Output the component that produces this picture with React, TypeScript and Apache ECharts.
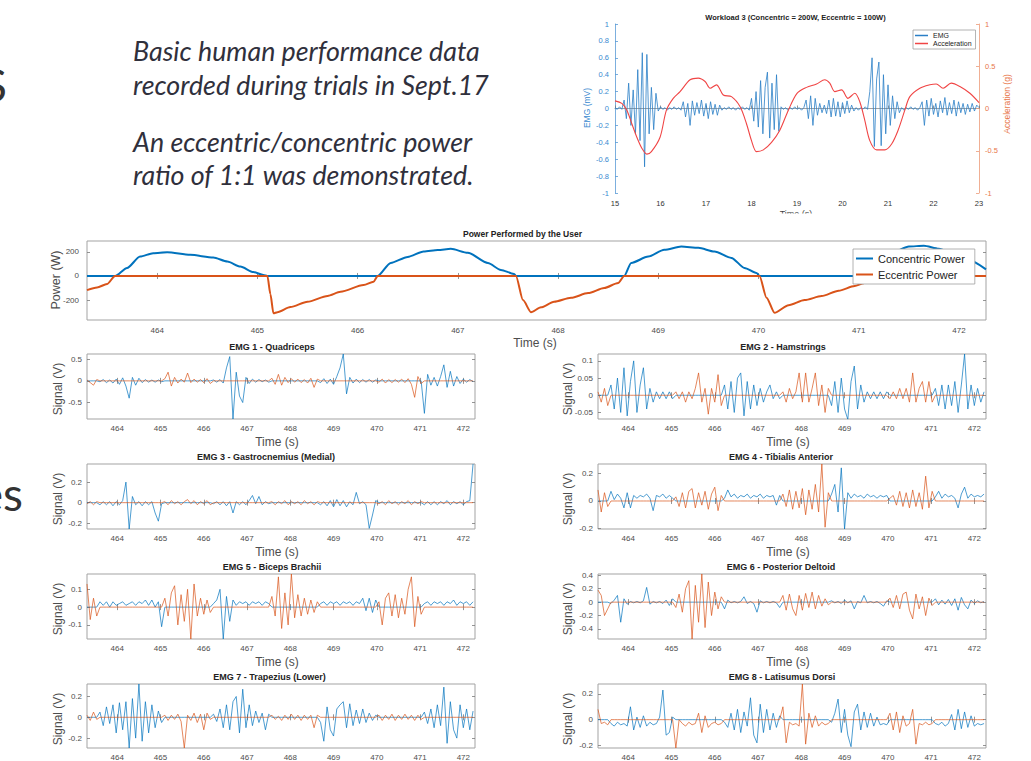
import React, { useEffect, useRef } from "react";
import * as echarts from "echarts";

// ---------------- Slide text ----------------
const slideLines = [
  "Basic human performance data",
  "recorded during trials in Sept.17",
  "An eccentric/concentric power",
  "ratio of 1:1 was demonstrated.",
];

// ---------------- Workload 3 chart ----------------
const workloadTitle = "Workload 3 (Concentric = 200W, Eccentric = 100W)";
const wlTimeStart = 15;
const wlTimeStep = 0.05;
const wlEmg = [
  0.01, -0.01, 0.02, -0.01,
  0.10, -0.12, 0.30, -0.20, 0.22, -0.30, 0.46, -0.38, 0.66, -0.69, 0.64, -0.30, 0.25, -0.25, 0.18,
  -0.03, 0.02, -0.01, 0.01, -0.02, 0.01, -0.01, 0.02, -0.01, 0.01, -0.02,
  0.08, -0.10, 0.06, -0.20, 0.09, -0.08, 0.07, -0.06, 0.10, -0.09, 0.06, -0.12, 0.08, -0.07, 0.05, -0.08, 0.04,
  -0.02, 0.01, -0.01, 0.02, -0.01, 0.01, -0.02, 0.01, -0.01, 0.02, -0.01, 0.01, -0.02,
  0.12, -0.15, 0.20, -0.22, 0.33, -0.30, 0.25, 0.43, -0.35, 0.30, -0.25, 0.40, -0.27,
  0.02, -0.01, 0.01, -0.02, 0.01, -0.01, 0.02, -0.01, 0.01, -0.02, 0.01,
  0.10, -0.12, 0.15, -0.20, 0.12, -0.08, 0.06, -0.05, 0.04, -0.06, 0.10, -0.10, 0.12, -0.09, 0.08, -0.10, 0.07, -0.06, 0.09, -0.05, 0.04, -0.03,
  0.01, -0.02, 0.01, -0.01, 0.02, -0.01,
  0.20, 0.60, -0.45, 0.35, 0.55, -0.44, 0.40, -0.30, 0.28, -0.20, 0.15, -0.12, 0.08, -0.05,
  0.01, -0.02, 0.01, -0.01, 0.02, -0.01, 0.01, -0.02, 0.01,
  0.08, -0.20, 0.10, -0.09, 0.12, -0.07, 0.06, -0.10, 0.09, -0.05, 0.13, -0.08, 0.07, -0.06, 0.10, -0.09, 0.08, -0.05, 0.06, -0.07, 0.05, -0.04, 0.06, -0.03, 0.04,
  0.01,
];
const accTime = [
  15.0, 15.15, 15.26, 15.37, 15.48, 15.59, 15.7, 15.8, 15.99, 16.13, 16.28, 16.43, 16.65, 16.83, 16.98,
  17.09, 17.23, 17.38, 17.56, 17.75, 17.89, 18.0, 18.11, 18.26, 18.44, 18.62, 18.81, 19.0, 19.21, 19.43,
  19.61, 19.72, 19.83, 19.98, 20.12, 20.27, 20.38, 20.49, 20.6, 20.75, 20.93, 21.08, 21.22, 21.37, 21.48,
  21.7, 21.92, 22.06, 22.21, 22.39, 22.58, 22.8, 23.0,
];
const accG = [
  0.09, 0.06, -0.02, -0.18, -0.34, -0.47, -0.54, -0.51, -0.34, -0.02, 0.12, 0.2, 0.34, 0.36, 0.32,
  0.24, 0.28, 0.16, 0.14, 0.02, -0.18, -0.38, -0.51, -0.49, -0.4, -0.26, -0.02, 0.18, 0.25, 0.29,
  0.34, 0.3, 0.2, 0.22, 0.12, 0.18, 0.08, -0.14, -0.38, -0.49, -0.49, -0.42, -0.26, -0.02, 0.14,
  0.24, 0.28, 0.29, 0.24, 0.3, 0.26, 0.18, 0.07,
];

// ---------------- Power chart ----------------
const powerTitle = "Power Performed by the User";
const powerTime = [
  463.3, 463.4, 463.5, 463.58, 463.7, 463.83, 463.96, 464.1, 464.33, 464.56, 464.7, 464.83, 464.96, 465.06,
  465.1, 465.13, 465.16, 465.2, 465.33, 465.5, 465.7, 465.83, 466.06, 466.16, 466.2, 466.33, 466.5, 466.66,
  466.8, 466.93, 467.1, 467.3, 467.43, 467.56, 467.58, 467.65, 467.73, 467.83, 467.96, 468.13, 468.3, 468.46,
  468.6, 468.66, 468.73, 468.9, 469.06, 469.23, 469.4, 469.56, 469.73, 469.86, 469.98, 470.01, 470.08, 470.16,
  470.3, 470.46, 470.63, 470.8, 470.96, 471.05, 471.1, 471.2, 471.35, 471.5, 471.65, 471.8, 471.95, 472.1, 472.27,
];
const powerWatts = [
  -117, -95, -67, 0, 67, 161, 189, 197, 175, 153, 120, 78, 33, 8,
  0, -150, -310, -300, -258, -214, -165, -131, -75, -47, 0, 108, 158, 203,
  215, 225, 192, 108, 50, 17, 0, -200, -300, -260, -214, -181, -142, -100,
  -58, 0, 108, 161, 217, 244, 233, 203, 150, 67, 25, 0, -180, -305,
  -242, -200, -167, -122, -83, -60, 0, 120, 200, 245, 250, 225, 180, 130, 55,
];
const powerTicks = [-200, 0, 200];

// ---------------- EMG panels ----------------
const emgTimeStart = 463.3;
const emgTimeStep = 0.075;
// times where the movement switches phase (starts eccentric, then concentric, ...)
const phaseBounds = [463.58, 465.09, 466.19, 467.56, 468.66, 470.01, 471.06];
const timeTicks = [464, 465, 466, 467, 468, 469, 470, 471, 472];

const emg1 = [
  0.02, -0.04, -0.10, 0.03,
  -0.02, 0.03, -0.04, 0.02, -0.05, 0.04, -0.08, 0.07, -0.12, -0.40, 0.08, -0.10, 0.06, -0.04, 0.03, -0.03, 0.02, -0.03, 0.02, -0.02,
  0.05, 0.20, -0.12, 0.08, -0.05, 0.04, -0.03, 0.18, -0.04, 0.04, -0.03, 0.03, -0.04, 0.05, -0.06,
  0.02, -0.03, 0.03, -0.05, 0.30, 0.56, -0.88, 0.20, -0.35, -0.50, 0.08, -0.06, 0.04, -0.03, 0.03, -0.02, 0.02, -0.03,
  0.06, -0.08, 0.15, -0.10, 0.08, -0.04, 0.05, -0.03, 0.04, -0.04, 0.03, -0.05, 0.06, -0.15, 0.04,
  -0.04, 0.05, -0.06, 0.04, -0.08, 0.10, 0.30, 0.62, -0.30, 0.08, -0.05, 0.04, -0.04, 0.03, -0.03, 0.03, -0.03, 0.02,
  -0.03, 0.04, -0.05, 0.03, -0.04, 0.03, -0.03, 0.04, -0.04, 0.05, -0.08, -0.38, 0.10, -0.06,
  -0.75, 0.15, -0.10, 0.08, -0.12, 0.10, 0.37, -0.15, 0.22, -0.12, 0.10, -0.06, 0.04, -0.03, 0.03, -0.02,
];
const emg2 = [
  0.01, -0.02, 0.02, -0.03,
  0.03, -0.04, 0.05, -0.05, 0.08, -0.06, 0.04, 0.10, -0.05, 0.03, 0.08, -0.04, 0.02, -0.02, 0.01, -0.01, 0.01, -0.01, 0.01, -0.01,
  0.01, -0.01, 0.01, -0.02, 0.01, -0.01, 0.02, 0.065, -0.02, 0.02, -0.055, 0.02, -0.02, 0.06, -0.03,
  0.03, -0.04, 0.04, -0.05, 0.05, 0.065, -0.06, 0.04, -0.04, 0.03, -0.03, 0.02, -0.02, 0.01, 0.03, -0.01, 0.01, -0.01,
  0.01, -0.02, 0.02, -0.01, 0.01, 0.065, -0.02, 0.065, -0.02, 0.02, 0.065, -0.03, 0.03, -0.05, 0.02,
  -0.03, 0.04, -0.05, 0.05, -0.04, -0.07, 0.04, 0.085, -0.04, 0.03, -0.02, 0.01, -0.01, 0.01, -0.01, 0.01, -0.01, 0.01,
  -0.01, 0.01, -0.01, 0.02, -0.01, 0.02, -0.02, 0.065, -0.02, 0.02, 0.04, -0.02, 0.04, -0.02,
  0.02, -0.03, 0.03, -0.04, 0.03, -0.03, 0.04, -0.05, 0.03, 0.12, -0.04, 0.03, -0.03, 0.02, -0.02, 0.01,
];
const emg3 = [
  -0.01, 0.01, -0.02, 0.01,
  -0.02, 0.01, -0.02, 0.01, -0.03, 0.01, -0.02, 0.02, 0.20, -0.256, 0.06, -0.02, 0.01, -0.03, 0.01, -0.02, 0.01, -0.10, -0.18, -0.01,
  0.01, -0.02, 0.02, -0.01, 0.01, -0.02, 0.01, 0.03, -0.01, 0.02, -0.02, 0.01, -0.01, 0.02, -0.02,
  -0.01, 0.01, -0.02, 0.01, -0.03, 0.01, -0.10, 0.01, -0.02, 0.01, -0.02, 0.02, 0.07, -0.01, 0.06, -0.02, 0.01, -0.01,
  0.01, -0.02, 0.01, -0.01, 0.02, -0.02, 0.01, -0.01, 0.01, -0.02, 0.02, -0.01, 0.01, -0.02, 0.01,
  -0.02, 0.01, -0.03, 0.02, -0.04, 0.03, -0.03, 0.02, -0.04, 0.01, -0.02, 0.10, -0.01, 0.01, -0.02, -0.25, -0.12, 0.02,
  -0.01, 0.01, -0.02, 0.02, -0.01, 0.01, -0.02, 0.01, -0.01, 0.02, -0.02, 0.01, -0.01, 0.01,
  -0.02, 0.01, -0.02, 0.01, -0.02, 0.01, -0.01, 0.02, -0.02, 0.01, -0.01, 0.01, -0.02, 0.01, 0.02, 0.376,
];
const emg4 = [
  0.08, -0.08, 0.06, -0.04,
  0.07, 0.01, 0.05, 0.02, -0.05, 0.06, -0.05, 0.04, 0.02, 0.04, 0.03, 0.05, 0.02, -0.07, 0.04, 0.03, 0.05, 0.02, 0.04, 0.02,
  0.03, -0.04, 0.06, -0.05, 0.07, 0.09, -0.05, 0.06, -0.03, 0.07, -0.06, 0.05, 0.10, -0.07, 0.04,
  0.02, 0.08, 0.03, 0.05, 0.02, 0.04, 0.03, 0.05, 0.02, 0.04, 0.03, 0.05, 0.02, 0.04, 0.03, 0.04, -0.03, 0.04,
  0.05, -0.04, 0.08, -0.06, 0.07, -0.05, 0.09, -0.10, 0.08, -0.06, 0.12, -0.08, 0.268, -0.19, 0.06,
  0.05, 0.12, -0.08, 0.24, -0.203, 0.06, 0.02, 0.05, 0.03, 0.04, 0.02, 0.05, 0.03, 0.04, 0.02, 0.04, 0.03, 0.04,
  0.02, 0.04, -0.03, 0.07, -0.04, 0.06, -0.05, 0.08, -0.04, 0.06, -0.06, 0.18, -0.05, 0.07,
  0.03, 0.07, 0.02, 0.05, 0.03, 0.04, 0.02, -0.05, 0.05, 0.10, 0.02, 0.05, 0.03, 0.04, 0.03, 0.05,
];
const emg5 = [
  0.13, -0.07, 0.05, -0.05,
  0.03, 0.01, 0.03, 0.00, 0.03, 0.01, 0.02, 0.03, 0.01, 0.02, 0.03, 0.01, 0.03, 0.02, 0.04, 0.01, 0.04, 0.00, 0.03, -0.11,
  0.05, -0.05, 0.08, 0.12, -0.10, 0.07, -0.08, 0.10, -0.179, 0.13, -0.05, 0.05, -0.04, 0.04, -0.03,
  0.02, 0.04, 0.10, -0.179, 0.06, -0.08, 0.04, 0.01, 0.03, 0.02, 0.03, 0.01, 0.03, 0.02, 0.03, 0.01, 0.03, 0.02,
  0.06, -0.05, 0.17, -0.12, 0.08, -0.10, 0.186, -0.06, 0.07, -0.05, 0.05, -0.04, 0.04, -0.03, 0.03,
  0.02, 0.03, 0.01, 0.03, 0.02, 0.03, 0.01, 0.03, 0.02, 0.03, 0.01, 0.03, 0.02, 0.05, -0.02, 0.05, -0.03, 0.04,
  0.03, -0.10, 0.05, 0.08, -0.05, 0.07, -0.06, 0.05, -0.04, 0.10, 0.17, -0.11, 0.06, -0.04,
  0.02, 0.03, 0.01, 0.03, 0.02, 0.03, 0.01, 0.03, 0.02, 0.04, 0.01, 0.03, 0.02, 0.03, 0.01, 0.03,
];
const emg6 = [
  0.18, 0.10, -0.20, -0.10,
  -0.02, 0.03, 0.10, -0.30, 0.05, -0.03, 0.01, -0.01, 0.01, -0.01, 0.02, 0.22, -0.03, 0.01, -0.01, 0.01, -0.02, 0.03, -0.05, 0.05,
  -0.08, 0.12, -0.15, 0.20, 0.32, -0.55, 0.25, -0.30, 0.42, -0.38, 0.30, -0.20, 0.15, -0.10, 0.08,
  -0.10, 0.03, -0.01, 0.01, -0.01, 0.01, 0.08, -0.02, 0.01, -0.02, -0.15, 0.02, -0.01, 0.01, -0.01, 0.01, -0.01, -0.08,
  0.10, -0.12, 0.12, -0.10, -0.20, 0.10, -0.12, 0.13, -0.08, 0.15, -0.10, 0.10, -0.06, 0.05, -0.04,
  0.02, -0.01, 0.01, -0.02, 0.03, -0.01, 0.02, -0.10, 0.01, -0.01, 0.10, -0.01, 0.01, -0.01, 0.01, -0.02, -0.06, 0.02,
  0.06, -0.08, 0.10, -0.10, 0.12, 0.15, -0.12, -0.25, 0.12, -0.10, 0.08, -0.20, 0.06, -0.05,
  0.05, -0.04, 0.03, -0.03, 0.04, -0.05, 0.05, -0.12, 0.07, -0.04, -0.10, 0.03, -0.02, 0.02, -0.01, 0.01,
];
const emg7 = [
  0.02, -0.03, 0.05, -0.02,
  0.05, -0.08, 0.10, -0.06, 0.12, -0.15, 0.14, -0.12, 0.15, -0.295, 0.18, -0.20, 0.32, -0.23, 0.15, -0.15, 0.12, -0.10, 0.06, -0.05,
  0.02, -0.03, 0.02, -0.02, 0.03, -0.04, -0.295, 0.02, -0.03, 0.04, -0.05, 0.03, -0.12, 0.04, -0.02,
  0.03, -0.04, 0.08, -0.10, 0.12, -0.12, 0.15, 0.20, -0.15, 0.27, -0.10, 0.12, -0.08, 0.06, -0.05, 0.04, -0.12, 0.03,
  0.02, -0.02, 0.01, -0.03, 0.02, -0.02, 0.03, -0.02, 0.02, -0.03, 0.02, -0.02, 0.02, -0.10, 0.02,
  -0.05, -0.23, 0.10, -0.12, -0.18, 0.08, 0.12, 0.15, -0.10, 0.13, -0.08, 0.07, -0.06, 0.08, -0.05, 0.04, -0.03, 0.02,
  0.02, -0.03, 0.02, -0.02, 0.03, -0.03, 0.02, -0.02, 0.03, -0.02, 0.02, -0.03, 0.02, -0.02,
  0.05, -0.06, 0.08, -0.10, 0.12, -0.08, 0.29, -0.25, 0.15, -0.12, -0.20, 0.12, -0.10, 0.08, -0.12, 0.06,
];
const emg8 = [
  0.08, -0.03, -0.02, -0.04,
  -0.03, -0.05, -0.02, -0.04, -0.03, -0.05, 0.10, -0.08, 0.02, -0.06, 0.03, -0.05, -0.02, -0.04, -0.03, 0.02, 0.23, -0.12, -0.10, 0.02,
  -0.22, 0.00, -0.03, -0.05, -0.02, -0.04, -0.03, 0.05, -0.10, 0.03, -0.06, -0.03, -0.02, -0.04, -0.03,
  -0.02, -0.06, 0.05, -0.08, 0.08, -0.10, 0.06, -0.05, 0.17, -0.12, -0.18, 0.12, -0.10, 0.08, -0.08, 0.05, -0.06, 0.03,
  0.10, -0.18, -0.02, -0.04, -0.03, -0.05, 0.277, -0.19, 0.05, -0.06, 0.03, -0.05, -0.02, -0.04, -0.03,
  -0.02, 0.05, 0.16, -0.10, 0.08, -0.12, -0.21, 0.06, 0.12, -0.08, 0.06, -0.06, 0.05, -0.05, 0.02, -0.04, -0.03, -0.04,
  0.05, -0.08, 0.06, -0.10, 0.03, -0.05, -0.03, 0.08, -0.19, -0.03, -0.04, -0.02, -0.04, -0.03,
  -0.03, -0.04, -0.02, -0.05, -0.03, 0.04, -0.08, 0.08, -0.07, 0.06, -0.06, 0.03, -0.05, -0.03, -0.04, -0.03,
];

const emgTitles = [
  "EMG 1 - Quadriceps",
  "EMG 2 - Hamstrings",
  "EMG 3 - Gastrocnemius (Medial)",
  "EMG 4 - Tibialis Anterior",
  "EMG 5 - Biceps Brachii",
  "EMG 6 - Posterior Deltoid",
  "EMG 7 - Trapezius (Lower)",
  "EMG 8 - Latisumus Dorsi",
];
const emgSignals = [emg1, emg2, emg3, emg4, emg5, emg6, emg7, emg8];
const emgYMin = [-0.88, -0.069, -0.256, -0.203, -0.179, -0.55, -0.295, -0.22];
const emgYMax = [0.62, 0.12, 0.376, 0.268, 0.186, 0.42, 0.32, 0.277];
const emgYTicks = [
  [-0.5, 0, 0.5],
  [-0.05, 0, 0.05, 0.1],
  [-0.2, 0, 0.2],
  [-0.2, 0, 0.2],
  [-0.1, 0, 0.1],
  [-0.4, -0.2, 0, 0.2, 0.4],
  [-0.2, 0, 0.2],
  [-0.2, 0, 0.2],
];

// ---------------- styling ----------------
const FONT = "'Liberation Sans', Arial, Helvetica, sans-serif";
const BLUE = "#0072BD";
const ORANGE = "#D95319";
const LABEL = "#4d4d4d";
const BOX = "#a3a3a3";

function isConcentric(t: number) {
  let n = 0;
  for (const b of phaseBounds) if (t >= b) n++;
  return n % 2 === 1;
}

function buildOption() {
  const grid: any[] = [];
  const xAxis: any[] = [];
  const yAxis: any[] = [];
  const series: any[] = [];
  const elements: any[] = [];

  const tickStyle = { color: "#7a7a7a", width: 0.8 };

  function addBoxPanel(p: any) {
    const gi = grid.length;
    grid.push({
      left: p.left, top: p.top, width: p.width, height: p.height,
      show: true, borderColor: BOX, borderWidth: 1, backgroundColor: "transparent",
    });
    const xi = xAxis.length;
    const xCommon = {
      type: "value", gridIndex: gi, min: p.xMin, max: p.xMax,
      axisLine: { show: false }, splitLine: { show: false },
      axisTick: { show: true, inside: true, length: 3, customValues: p.xTicks, lineStyle: tickStyle },
    };
    xAxis.push({
      ...xCommon, position: "bottom",
      axisLabel: { show: true, customValues: p.xTicks, fontSize: p.fs, color: LABEL, fontFamily: FONT, margin: p.xMargin },
    });
    xAxis.push({ ...xCommon, position: "top", axisLabel: { show: false } });
    const yi = yAxis.length;
    const yCommon = {
      type: "value", gridIndex: gi, min: p.yMin, max: p.yMax,
      axisLine: { show: false }, splitLine: { show: false },
      axisTick: { show: true, inside: true, length: 3, customValues: p.yTicks, lineStyle: tickStyle },
    };
    yAxis.push({
      ...yCommon, position: "left",
      axisLabel: { show: true, customValues: p.yTicks, fontSize: p.fs, color: LABEL, fontFamily: FONT, margin: p.yMargin },
    });
    yAxis.push({ ...yCommon, position: "right", axisLabel: { show: false } });
    return { xi, yi };
  }

  const text = (t: string, x: number, y: number, o: any = {}) => ({
    type: "text", x, y, rotation: o.rotation || 0, z: o.z || 10,
    style: {
      text: t, fontSize: o.fontSize || 12, fontFamily: o.fontFamily || FONT,
      fontWeight: o.fontWeight || "normal", fontStyle: o.fontStyle || "normal",
      fill: o.fill || LABEL, align: o.align || "center", verticalAlign: "middle",
    },
  });

  // ---------- slide text ----------
  const slideY = [51, 85, 142, 175];
  slideLines.forEach((line, i) =>
    elements.push(text(line, 133, slideY[i], { fontSize: 26.8, fontFamily: "Lato", fontStyle: "italic", fill: "#30303c", align: "left" }))
  );
  elements.push(text("S", 7, 84, { fontSize: 46, fontFamily: "Lato", fill: "#333333", align: "right" }));
  elements.push(text("es", 23, 493, { fontSize: 46, fontFamily: "Lato", fill: "#333333", align: "right" }));

  // ---------- workload chart ----------
  const wlG = grid.length;
  grid.push({ left: 615, top: 24, width: 364, height: 169, show: false });
  const wlX = xAxis.length;
  xAxis.push({
    type: "value", gridIndex: wlG, min: 15, max: 23, interval: 1, position: "bottom",
    axisLine: { show: true, lineStyle: { color: "#8a8a8a", width: 0.8 } },
    axisTick: { show: true, inside: true, length: 3, lineStyle: tickStyle },
    axisLabel: { fontSize: 7.5, color: "#333", fontFamily: FONT, margin: 6 },
    splitLine: { show: false },
  });
  const wlYL = yAxis.length;
  yAxis.push({
    type: "value", gridIndex: wlG, min: -1, max: 1, interval: 0.2, position: "left",
    axisLine: { show: true, lineStyle: { color: "#5a9bd5", width: 0.8 } },
    axisTick: { show: true, inside: true, length: 3, lineStyle: { color: "#5a9bd5", width: 0.8 } },
    axisLabel: { fontSize: 7.5, color: "#3a8ad0", fontFamily: FONT, margin: 6 },
    splitLine: { show: false },
  });
  const wlYR = yAxis.length;
  yAxis.push({
    type: "value", gridIndex: wlG, min: -1, max: 1, interval: 0.5, position: "right",
    axisLine: { show: true, lineStyle: { color: "#ec9a78", width: 0.8 } },
    axisTick: { show: true, inside: true, length: 3, lineStyle: { color: "#ec9a78", width: 0.8 } },
    axisLabel: { fontSize: 7.5, color: "#e8774a", fontFamily: FONT, margin: 6 },
    splitLine: { show: false },
  });
  series.push({
    name: "EMG", type: "line", xAxisIndex: wlX, yAxisIndex: wlYL, symbol: "none", silent: true,
    data: wlEmg.map((v, i) => [Math.round((wlTimeStart + i * wlTimeStep) * 1000) / 1000, v]),
    lineStyle: { color: "#2a7fc6", width: 0.8 }, itemStyle: { color: "#2a7fc6" },
  });
  series.push({
    name: "Acceleration", type: "line", xAxisIndex: wlX, yAxisIndex: wlYR, symbol: "none", silent: true, smooth: 0.3,
    data: accTime.map((t, i) => [t, accG[i]]),
    lineStyle: { color: "#f04545", width: 1.1 }, itemStyle: { color: "#f04545" },
  });
  elements.push(text(workloadTitle, 795.5, 17.5, { fontSize: 7.5, fontWeight: "bold", fill: "#222" }));
  elements.push(text("EMG (mV)", 587, 108, { fontSize: 8.5, fill: "#3a8ad0", rotation: Math.PI / 2 }));
  elements.push(text("Acceleration (g)", 1007, 104, { fontSize: 8.5, fill: "#e8774a", rotation: Math.PI / 2 }));
  elements.push(text("Time (s)", 796, 214, { fontSize: 9, fill: "#444" }));
  elements.push({ type: "rect", z: 50, shape: { x: 740, y: 213.5, width: 110, height: 12 }, style: { fill: "#ffffff" } });

  // ---------- power chart ----------
  const pw = addBoxPanel({
    left: 87, top: 241, width: 899, height: 79,
    xMin: 463.3, xMax: 472.27, xTicks: timeTicks,
    yMin: -365, yMax: 290, yTicks: powerTicks, fs: 8, xMargin: 6, yMargin: 8,
  });
  series.push({
    name: "Concentric Power", type: "line", xAxisIndex: pw.xi, yAxisIndex: pw.yi, symbol: "none", silent: true,
    smooth: 0.25, smoothMonotone: "x",
    data: powerTime.map((t, i) => [t, Math.max(powerWatts[i], 0)]),
    lineStyle: { color: BLUE, width: 2 }, itemStyle: { color: BLUE },
  });
  series.push({
    name: "Eccentric Power", type: "line", xAxisIndex: pw.xi, yAxisIndex: pw.yi, symbol: "none", silent: true,
    smooth: 0.25, smoothMonotone: "x",
    data: powerTime.map((t, i) => [t, Math.min(powerWatts[i], 0)]),
    lineStyle: { color: ORANGE, width: 2 }, itemStyle: { color: ORANGE },
  });
  elements.push(text(powerTitle, 522.5, 233.5, { fontSize: 8.5, fontWeight: "bold", fill: "#222" }));
  elements.push(text("Power (W)", 56, 280, { fontSize: 12.5, rotation: Math.PI / 2 }));
  elements.push(text("Time (s)", 535, 342.5, { fontSize: 12 }));

  // ---------- EMG panels ----------
  const colLeft = [87, 598];
  const rowTop = [354, 464, 574, 684];
  const titleX = [272, 783, 266, 781, 272, 781, 269.5, 782];
  const timeLabelX = [277, 788];
  const signalLabelX = [58, 568];
  emgSignals.forEach((vals, k) => {
    const col = k % 2;
    const row = Math.floor(k / 2);
    const ax = addBoxPanel({
      left: colLeft[col], top: rowTop[row], width: 388, height: 65,
      xMin: 463.3, xMax: 472.27, xTicks: timeTicks,
      yMin: emgYMin[k], yMax: emgYMax[k], yTicks: emgYTicks[k], fs: 8, xMargin: 5, yMargin: 5,
    });
    const con: number[][] = [];
    const ecc: number[][] = [];
    vals.forEach((v, i) => {
      const t = Math.round((emgTimeStart + i * emgTimeStep) * 1000) / 1000;
      const c = isConcentric(t);
      con.push([t, c ? v : 0]);
      ecc.push([t, c ? 0 : v]);
    });
    series.push({
      type: "line", xAxisIndex: ax.xi, yAxisIndex: ax.yi, symbol: "none", silent: true, data: con,
      lineStyle: { color: BLUE, width: 0.7 }, itemStyle: { color: BLUE },
    });
    series.push({
      type: "line", xAxisIndex: ax.xi, yAxisIndex: ax.yi, symbol: "none", silent: true, data: ecc,
      lineStyle: { color: ORANGE, width: 0.7 }, itemStyle: { color: ORANGE },
    });
    elements.push(text(emgTitles[k], titleX[k], rowTop[row] - 7.5, { fontSize: 9, fontWeight: "bold", fill: "#222" }));
    elements.push(text("Signal (V)", signalLabelX[col], rowTop[row] + 35, { fontSize: 12, rotation: Math.PI / 2 }));
    if (row < 3) elements.push(text("Time (s)", timeLabelX[col], rowTop[row] + 88, { fontSize: 12 }));
  });

  return {
    animation: false,
    backgroundColor: "#ffffff",
    grid,
    xAxis,
    yAxis,
    series,
    legend: [
      {
        data: ["EMG", "Acceleration"], orient: "vertical", left: 913, top: 30,
        icon: "rect", itemWidth: 13, itemHeight: 1.5, itemGap: 1, padding: [2, 4, 2, 2],
        textStyle: { fontSize: 7, color: "#222", fontFamily: FONT },
        borderColor: "#a0a0a0", borderWidth: 0.8, backgroundColor: "#ffffff", selectedMode: false,
      },
      {
        data: ["Concentric Power", "Eccentric Power"], orient: "vertical", left: 853, top: 249,
        icon: "rect", itemWidth: 17, itemHeight: 2, itemGap: 5, padding: [4, 10, 4, 3],
        textStyle: { fontSize: 11, color: "#222", fontFamily: FONT },
        borderColor: "#a0a0a0", borderWidth: 0.8, backgroundColor: "#ffffff", selectedMode: false,
      },
    ],
    graphic: { elements },
  };
}

export default function App() {
  const ref = useRef<HTMLDivElement>(null);
  useEffect(() => {
    const chart = echarts.init(ref.current!, null, { renderer: "svg" });
    chart.setOption(buildOption() as any);
    return () => chart.dispose();
  }, []);
  return (
    <div
      ref={ref}
      style={{ position: "fixed", left: 0, top: 0, width: 1031, height: 761, background: "#ffffff" }}
    />
  );
}
